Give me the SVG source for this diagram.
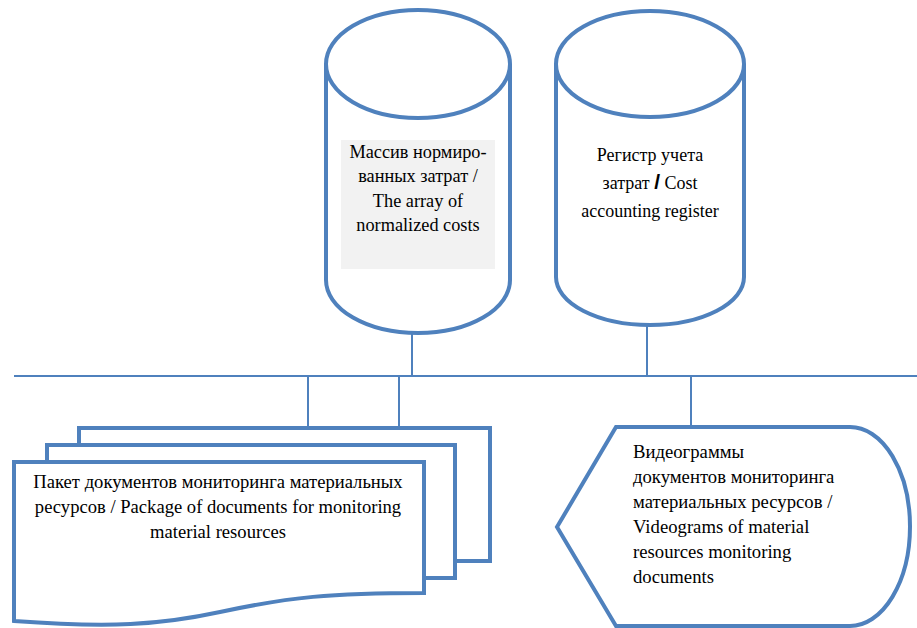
<svg xmlns="http://www.w3.org/2000/svg" width="917" height="628" viewBox="0 0 917 628">
<style>
.shape{fill:#fff;stroke:#4f81bd;stroke-width:4}
.conn{fill:none;stroke:#4f81bd;stroke-width:2}
.c{text-anchor:middle}
</style>
<rect width="917" height="628" fill="#fff"/>
<g id="connectors">
<line class="conn" x1="14" y1="376" x2="917" y2="376"/>
<line class="conn" x1="412" y1="333" x2="412" y2="376"/>
<line class="conn" x1="647" y1="325" x2="647" y2="376"/>
<line class="conn" x1="308" y1="376" x2="308" y2="427"/>
<line class="conn" x1="399" y1="376" x2="399" y2="427"/>
<line class="conn" x1="691" y1="376" x2="691" y2="427"/>
</g>
<g id="cyl1" font-family="'Liberation Serif', 'Times New Roman', serif" font-size="18.3">
<path class="shape" d="M326,64 L326,280 A92,53 0 0 0 510,280 L510,64"/>
<ellipse class="shape" cx="418" cy="64" rx="92" ry="54"/>
<rect x="341" y="140" width="154" height="129" fill="#f2f2f2"/>
<text class="c" x="418" y="158">Массив нормиро-</text>
<text class="c" x="418" y="182">ванных затрат /</text>
<text class="c" x="418" y="207">The array of</text>
<text class="c" x="418" y="231">normalized costs</text>
</g>
<g id="cyl2" font-family="'Liberation Serif', 'Times New Roman', serif" font-size="18">
<path class="shape" d="M556,64 L556,277 A94,48 0 0 0 744,277 L744,64"/>
<ellipse class="shape" cx="650" cy="64" rx="94" ry="53"/>
<text class="c" x="650" y="161">Регистр учета</text>
<text class="c" x="650" y="189">затрат <tspan font-family="'Liberation Sans', Arial, sans-serif" font-weight="bold" font-size="21">/</tspan> Cost</text>
<text class="c" x="650" y="217">accounting register</text>
</g>
<g id="package" font-family="'Liberation Serif', 'Times New Roman', serif" font-size="18.6">
<rect class="shape" x="79" y="428" width="411" height="133"/>
<rect class="shape" x="47" y="445" width="408" height="133"/>
<path class="shape" d="M14,462 L424,462 L424,593 C330,593 290,597 220,612 C160,625 110,628 14,621 Z"/>
<text class="c" x="218" y="488">Пакет документов мониторинга материальных</text>
<text class="c" x="218" y="513">ресурсов / Package of documents for monitoring</text>
<text class="c" x="218" y="538">material resources</text>
</g>
<g id="display" font-family="'Liberation Serif', 'Times New Roman', serif" font-size="18.7">
<path class="shape" d="M616,427 L850,427 A60,99.5 0 0 1 850,626 L616,626 L557,527 Z"/>
<text x="633" y="458">Видеограммы</text>
<text x="633" y="483">документов мониторинга</text>
<text x="633" y="508">материальных ресурсов /</text>
<text x="633" y="533">Videograms of material</text>
<text x="633" y="558">resources monitoring</text>
<text x="633" y="583">documents</text>
</g>
</svg>
